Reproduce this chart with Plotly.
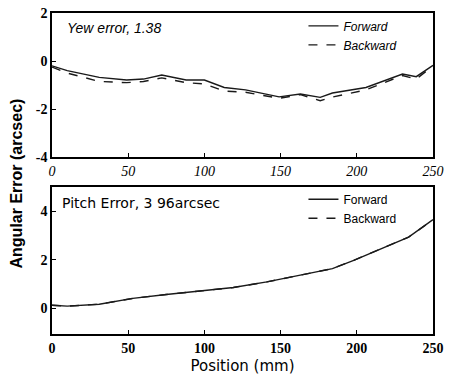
import plotly.graph_objects as go

# Yaw error data
yaw_x_fwd = [0, 10, 31, 49, 60, 72, 88, 100, 113, 127, 149, 163, 176, 184, 206, 230, 239, 250]
yaw_fwd = [-0.2, -0.4, -0.68, -0.79, -0.75, -0.58, -0.79, -0.79, -1.1, -1.2, -1.49, -1.37, -1.51, -1.33, -1.1, -0.54, -0.65, -0.18]
yaw_x_bwd = [0, 10, 31, 49, 60, 72, 88, 100, 113, 127, 149, 163, 176, 184, 206, 230, 239, 250]
yaw_bwd = [-0.25, -0.5, -0.85, -0.9, -0.85, -0.7, -0.9, -0.95, -1.25, -1.3, -1.55, -1.4, -1.65, -1.5, -1.2, -0.6, -0.75, -0.2]

# Pitch error data
pitch_x = [0, 10, 31, 53, 75, 97, 119, 141, 163, 184, 198, 218, 234, 250]
pitch_fwd = [0.12, 0.08, 0.16, 0.4, 0.56, 0.7, 0.85, 1.08, 1.36, 1.63, 1.97, 2.52, 2.93, 3.65]
pitch_bwd = [0.12, 0.08, 0.16, 0.4, 0.56, 0.7, 0.85, 1.08, 1.36, 1.63, 1.97, 2.52, 2.93, 3.65]

x_ticks = [0, 50, 100, 150, 200, 250]
yaw_yticks = [2, 0, -2, -4]
pitch_yticks = [0, 2, 4]

fig = go.Figure()
line_c = "#1a1a1a"
fig.add_trace(go.Scatter(x=yaw_x_fwd, y=yaw_fwd, mode="lines", name="Forward",
                         line=dict(color=line_c, width=1.4), xaxis="x", yaxis="y", legend="legend"))
fig.add_trace(go.Scatter(x=yaw_x_bwd, y=yaw_bwd, mode="lines", name="Backward",
                         line=dict(color=line_c, width=1.4, dash="dash"), xaxis="x", yaxis="y", legend="legend"))
fig.add_trace(go.Scatter(x=pitch_x, y=pitch_fwd, mode="lines", name="Forward",
                         line=dict(color=line_c, width=1.4), xaxis="x2", yaxis="y2", legend="legend2"))
fig.add_trace(go.Scatter(x=pitch_x, y=pitch_bwd, mode="lines", name="Backward",
                         line=dict(color=line_c, width=1.4, dash="dash"), xaxis="x2", yaxis="y2", legend="legend2"))

ax_common = dict(showline=True, linecolor="black", linewidth=1.6, mirror=True, showgrid=False,
                 zeroline=False, ticks="inside", ticklen=4, tickcolor="black", automargin=False)
tick_it = dict(family="Liberation Serif", size=14, color="black", style="italic")
tick_up = dict(family="Liberation Serif", size=14, color="black", weight="bold")

fig.update_layout(
    width=454, height=377,
    margin=dict(l=52, r=21, t=13, b=43, autoexpand=False),
    paper_bgcolor="white", plot_bgcolor="white",
    showlegend=True,
    xaxis=dict(domain=[0, 1], range=[0, 250], tickvals=x_ticks, tickfont=tick_it, anchor="y", **ax_common),
    yaxis=dict(domain=[0.551, 1], range=[-4, 2], tickvals=yaw_yticks, ticktext=["2", "0", "-2", "-4"],
               tickfont=tick_up, anchor="x", **ax_common),
    xaxis2=dict(domain=[0, 1], range=[0, 250], tickvals=x_ticks, tickfont=tick_up, anchor="y2",
                title=dict(text="Position (mm)", font=dict(family="DejaVu Sans", size=15, color="black"), standoff=6),
                **ax_common),
    yaxis2=dict(domain=[0, 0.458], range=[-1.07, 5.0], tickvals=pitch_yticks, tickfont=tick_up, anchor="x2",
                **ax_common),
    legend=dict(x=0.66, y=1.005, xanchor="left", yanchor="top", bgcolor="rgba(0,0,0,0)",
                font=dict(family="Liberation Sans", size=12, color="black", style="italic"),
                tracegroupgap=2, itemwidth=30),
    legend2=dict(x=0.66, y=0.465, xanchor="left", yanchor="top", bgcolor="rgba(0,0,0,0)",
                 font=dict(family="Liberation Sans", size=12, color="black"),
                 tracegroupgap=2, itemwidth=30),
    annotations=[
        dict(text="Yew error, 1.38", x=0.035, y=0.985, xref="paper", yref="paper", xanchor="left", yanchor="top",
             showarrow=False, font=dict(family="Liberation Sans", size=14, color="black", style="italic")),
        dict(text="Pitch Error, 3 96arcsec", x=0.02, y=0.44, xref="paper", yref="paper", xanchor="left",
             yanchor="top", showarrow=False, font=dict(family="DejaVu Sans", size=14, color="black")),
        dict(text="Angular Error (arcsec)", x=-0.066, y=0.47, xref="paper", yref="paper", textangle=-90,
             xanchor="right", showarrow=False,
             font=dict(family="Liberation Sans", size=16, color="black", weight="bold")),
    ],
)

fig.write_html("out.html", config={"displayModeBar": False},
               post_script="document.body.style.margin='0';document.body.style.padding='0';")
